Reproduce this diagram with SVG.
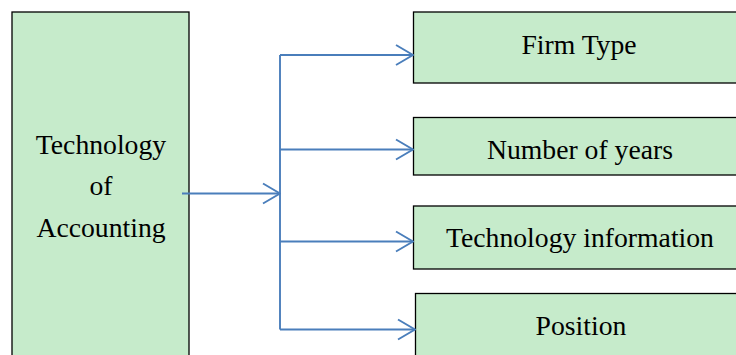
<svg xmlns="http://www.w3.org/2000/svg" width="736" height="355" viewBox="0 0 736 355">
  <style>
    .box { fill: #c6ebcb; stroke: #000; stroke-width: 1.3; }
    .label { font-family: "Liberation Serif", "Times New Roman", serif; font-size: 27.7px; fill: #000; text-anchor: middle; }
    .wire { fill: none; stroke: #4a7ebb; stroke-width: 1.9; }
  </style>
  <defs>
    <marker id="chevron" viewBox="0 0 20 24" refX="19" refY="12" markerWidth="20" markerHeight="24" markerUnits="userSpaceOnUse" orient="auto">
      <path d="M2,2 L19,12 L2,22" fill="none" stroke="#4a7ebb" stroke-width="1.9"/>
    </marker>
  </defs>

  <g id="node-technology-of-accounting">
    <rect class="box" x="12" y="12" width="177" height="360"/>
    <text class="label" x="101" y="154">Technology</text>
    <text class="label" x="101" y="195">of</text>
    <text class="label" x="101" y="237">Accounting</text>
  </g>

  <g id="node-firm-type">
    <rect class="box" x="413.5" y="12" width="340" height="71"/>
    <text class="label" x="579" y="54">Firm Type</text>
  </g>

  <g id="node-number-of-years">
    <rect class="box" x="413.5" y="117.5" width="340" height="57.5"/>
    <text class="label" x="580" y="158.5">Number of years</text>
  </g>

  <g id="node-technology-information">
    <rect class="box" x="413.5" y="206" width="340" height="63"/>
    <text class="label" x="580" y="247">Technology information</text>
  </g>

  <g id="node-position">
    <rect class="box" x="415.5" y="293.5" width="340" height="80"/>
    <text class="label" x="581" y="335">Position</text>
  </g>

  <g id="connectors">
    <line class="wire" x1="182" y1="193.5" x2="280" y2="193.5" marker-end="url(#chevron)"/>
    <line class="wire" x1="280" y1="55" x2="280" y2="329.5"/>
    <line class="wire" x1="280" y1="55" x2="413" y2="55" marker-end="url(#chevron)"/>
    <line class="wire" x1="280" y1="149.5" x2="413" y2="149.5" marker-end="url(#chevron)"/>
    <line class="wire" x1="280" y1="241.5" x2="413" y2="241.5" marker-end="url(#chevron)"/>
    <line class="wire" x1="280" y1="329.5" x2="415" y2="329.5" marker-end="url(#chevron)"/>
  </g>
</svg>
